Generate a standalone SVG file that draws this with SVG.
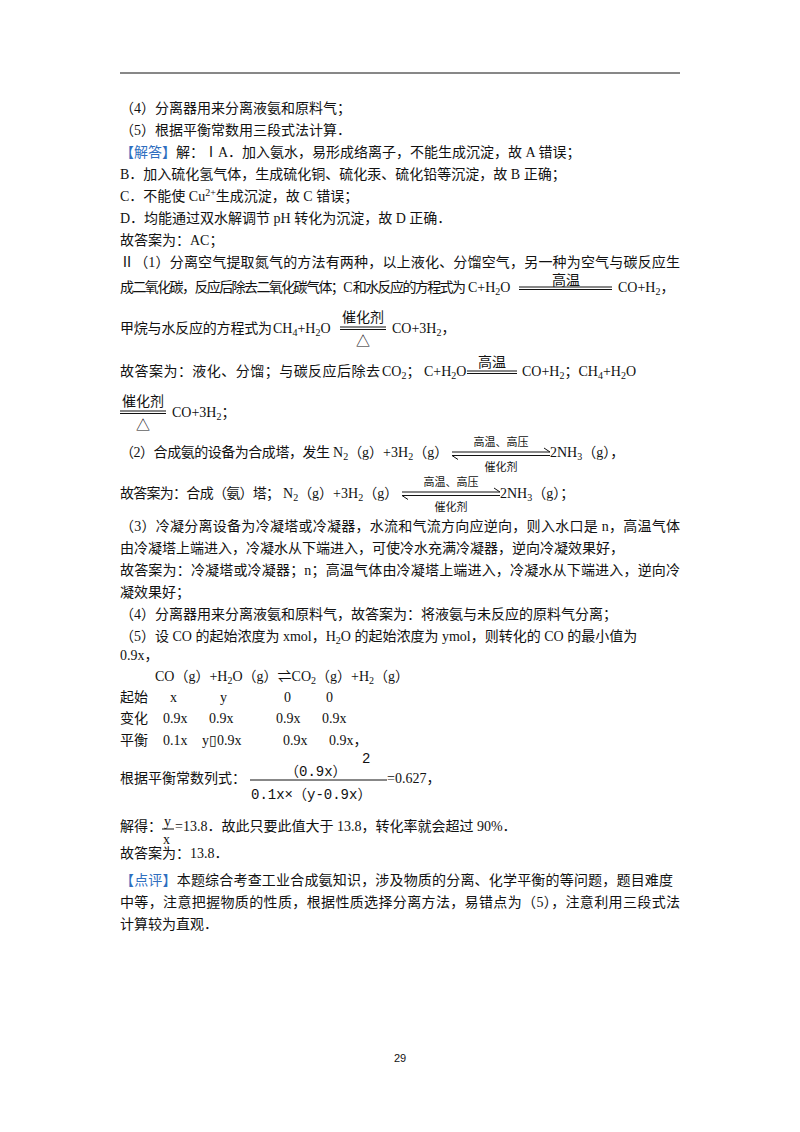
<svg xmlns="http://www.w3.org/2000/svg" width="800" height="1132" viewBox="0 0 800 1132">
<style>
text{font-family:"Liberation Serif","Noto Sans CJK SC",serif;font-size:14px;fill:#111}
.b{fill:#2f6fbf}
.s{font-size:10px}
.k{font-family:"Noto Sans CJK SC",sans-serif;font-size:14px}
.k2{font-family:"Noto Sans CJK SC",sans-serif;font-size:11px}
.m{font-family:"Liberation Mono","Noto Sans CJK SC",monospace;font-size:14px}
line{stroke:#111;stroke-width:1}
</style>
<rect width="800" height="1132" fill="#fff"/>
<line x1="120" y1="73" x2="680" y2="73" stroke-width="1.2"/>
<text x="120" y="113">（4）分离器用来分离液氨和原料气；</text>
<text x="120" y="135">（5）根据平衡常数用三段式法计算．</text>
<text x="120" y="157"><tspan class="b">【解答】</tspan>解：ⅠA．加入氨水，易形成络离子，不能生成沉淀，故 A 错误；</text>
<text x="120" y="179">B．加入硫化氢气体，生成硫化铜、硫化汞、硫化铅等沉淀，故 B 正确；</text>
<text x="120" y="201">C．不能使 Cu<tspan class="s" dy="-5">2+</tspan><tspan dy="5">生成沉淀，故 C 错误；</tspan></text>
<text x="120" y="223">D．均能通过双水解调节 pH 转化为沉淀，故 D 正确．</text>
<text x="120" y="245">故答案为：AC；</text>
<text x="120" y="267" textLength="560">Ⅱ（1）分离空气提取氮气的方法有两种，以上液化、分馏空气，另一种为空气与碳反应生</text>
<text x="120" y="292" textLength="346">成二氧化碳，反应后除去二氧化碳气体；C 和水反应的方程式为</text>
<text x="468" y="292">C+H<tspan class="s" dy="3">2</tspan><tspan dy="-3">O</tspan></text>
<line x1="519" y1="287" x2="612" y2="287"/><line x1="519" y1="289.5" x2="612" y2="289.5"/>
<text class="k" x="566" y="285" text-anchor="middle" font-size="13">高温</text>
<text x="618" y="292">CO+H<tspan class="s" dy="3">2</tspan><tspan dy="-3">，</tspan></text>
<text x="120" y="333" textLength="152">甲烷与水反应的方程式为</text>
<text x="273" y="333">CH<tspan class="s" dy="3">4</tspan><tspan dy="-3">+H</tspan><tspan class="s" dy="3">2</tspan><tspan dy="-3">O</tspan></text>
<line x1="340" y1="327" x2="386" y2="327"/><line x1="340" y1="329.5" x2="386" y2="329.5"/>
<text class="k" x="363" y="322" text-anchor="middle">催化剂</text>
<text class="k" x="363" y="346" text-anchor="middle">△</text>
<text x="392" y="333">CO+3H<tspan class="s" dy="3">2</tspan><tspan dy="-3">，</tspan></text>
<text x="120" y="376" textLength="260">故答案为：液化、分馏；与碳反应后除去</text>
<text x="382" y="376">CO<tspan class="s" dy="3">2</tspan><tspan dy="-3">；</tspan></text>
<text x="424" y="376">C+H<tspan class="s" dy="3">2</tspan><tspan dy="-3">O</tspan></text>
<line x1="467" y1="371" x2="517" y2="371"/><line x1="467" y1="373.5" x2="517" y2="373.5"/>
<text class="k" x="492" y="367" text-anchor="middle">高温</text>
<text x="522" y="376">CO+H<tspan class="s" dy="3">2</tspan><tspan dy="-3">；CH</tspan><tspan class="s" dy="3">4</tspan><tspan dy="-3">+H</tspan><tspan class="s" dy="3">2</tspan><tspan dy="-3">O</tspan></text>
<line x1="120" y1="411" x2="166" y2="411"/><line x1="120" y1="413.5" x2="166" y2="413.5"/>
<text class="k" x="143" y="406" text-anchor="middle">催化剂</text>
<text class="k" x="143" y="430" text-anchor="middle">△</text>
<text x="172" y="417">CO+3H<tspan class="s" dy="3">2</tspan><tspan dy="-3">；</tspan></text>
<text x="120" y="457" textLength="210">（2）合成氨的设备为合成塔，发生</text>
<text x="333" y="457">N<tspan class="s" dy="3">2</tspan><tspan dy="-3">（g）+3H</tspan><tspan class="s" dy="3">2</tspan><tspan dy="-3">（g）</tspan></text>
<path d="M452 452H550l-6-4M452 455.5H550M452 455.5l6 4" fill="none" stroke="#111"/>
<text class="k2" x="501" y="446" text-anchor="middle">高温、高压</text>
<text class="k2" x="501" y="471" text-anchor="middle">催化剂</text>
<text x="550" y="457">2NH<tspan class="s" dy="3">3</tspan><tspan dy="-3">（g），</tspan></text>
<text x="120" y="498" textLength="160">故答案为：合成（氨）塔；</text>
<text x="283" y="498">N<tspan class="s" dy="3">2</tspan><tspan dy="-3">（g）+3H</tspan><tspan class="s" dy="3">2</tspan><tspan dy="-3">（g）</tspan></text>
<path d="M402 492H500l-6-4M402 495.5H500M402 495.5l6 4" fill="none" stroke="#111"/>
<text class="k2" x="451" y="486" text-anchor="middle">高温、高压</text>
<text class="k2" x="451" y="511" text-anchor="middle">催化剂</text>
<text x="500" y="498">2NH<tspan class="s" dy="3">3</tspan><tspan dy="-3">（g）；</tspan></text>
<text x="120" y="531" textLength="560">（3）冷凝分离设备为冷凝塔或冷凝器，水流和气流方向应逆向，则入水口是 n，高温气体</text>
<text x="120" y="553">由冷凝塔上端进入，冷凝水从下端进入，可使冷水充满冷凝器，逆向冷凝效果好，</text>
<text x="120" y="575" textLength="560">故答案为：冷凝塔或冷凝器；n；高温气体由冷凝塔上端进入，冷凝水从下端进入，逆向冷</text>
<text x="120" y="597">凝效果好；</text>
<text x="120" y="619">（4）分离器用来分离液氨和原料气，故答案为：将液氨与未反应的原料气分离；</text>
<text x="120" y="641">（5）设 CO 的起始浓度为 xmol，H<tspan class="s" dy="3">2</tspan><tspan dy="-3">O 的起始浓度为 ymol，则转化的 CO 的最小值为</tspan></text>
<text x="120" y="660">0.9x，</text>
<text x="155" y="681">CO（g）+H<tspan class="s" dy="3">2</tspan><tspan dy="-3">O（g）⇌CO</tspan><tspan class="s" dy="3">2</tspan><tspan dy="-3">（g）+H</tspan><tspan class="s" dy="3">2</tspan><tspan dy="-3">（g）</tspan></text>
<text x="120" y="702">起始</text><text x="170" y="702">x</text><text x="220" y="702">y</text><text x="284" y="702">0</text><text x="326" y="702">0</text>
<text x="120" y="723">变化</text><text x="163" y="723">0.9x</text><text x="209" y="723">0.9x</text><text x="276" y="723">0.9x</text><text x="322" y="723">0.9x</text>
<text x="120" y="745">平衡</text><text x="163" y="745">0.1x</text><text x="202" y="745">y▯0.9x</text><text x="283" y="745">0.9x</text><text x="329" y="745">0.9x，</text>
<text x="120" y="783">根据平衡常数列式：</text>
<text class="m" x="285" y="776">（0.9x）</text><text class="m" x="362" y="763" font-size="12">2</text>
<line x1="250" y1="780" x2="387" y2="780"/>
<text class="m" x="251" y="799">0.1x×（y-0.9x）</text>
<text x="387" y="783">=0.627，</text>
<text x="120" y="831">解得：</text>
<text x="164" y="826">y</text><line x1="162" y1="829" x2="174" y2="829"/><text x="163" y="844">x</text>
<text x="175" y="831">=13.8．故此只要此值大于 13.8，转化率就会超过 90%．</text>
<text x="120" y="858">故答案为：13.8．</text>
<text x="120" y="885" textLength="553"><tspan class="b">【点评】</tspan>本题综合考查工业合成氨知识，涉及物质的分离、化学平衡的等问题，题目难度</text>
<text x="120" y="907" textLength="560">中等，注意把握物质的性质，根据性质选择分离方法，易错点为（5），注意利用三段式法</text>
<text x="120" y="929">计算较为直观．</text>
<text x="400" y="1062" text-anchor="middle" style="font-family:'Liberation Sans',sans-serif;font-size:11px">29</text>
</svg>
